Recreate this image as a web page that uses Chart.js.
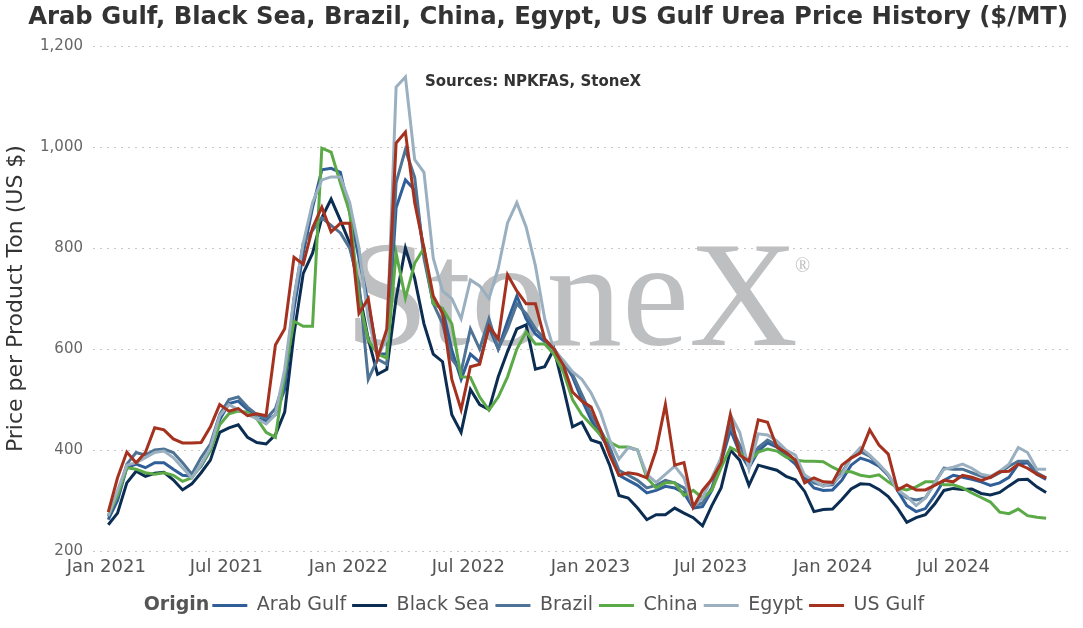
<!DOCTYPE html>
<html>
<head>
<meta charset="utf-8">
<script src="https://cdn.jsdelivr.net/npm/chart.js@4.4.1/dist/chart.umd.min.js"></script>
<style>
    html, body { margin: 0; padding: 0; background: #ffffff; }
    #wrap { width: 1083px; height: 628px; position: relative; }
</style>
</head>
<body>
<div id="wrap"><canvas id="ureaChart"></canvas></div>
<script>

// Series, one value every two weeks starting early Jan 2021 ($/MT)
const origins = ["Arab Gulf", "Black Sea", "Brazil", "China", "Egypt", "US Gulf"];

const arabGulf = [
    262, 300, 365, 372, 365, 375, 375, 362, 350, 348,
    368, 400, 460, 492, 497, 480, 462, 458, 470, 520,
    680, 790, 880, 955, 958, 950, 870, 780, 690, 590,
    590, 880, 935, 915, 790, 690, 680, 598, 540, 590,
    574, 644, 600, 655, 705, 660, 630, 615, 600, 575,
    545, 500, 460, 430, 400, 350, 340, 330, 315, 320,
    328, 325, 315, 285, 288, 320, 375, 440, 395, 365,
    398, 414, 406, 388, 372, 345, 325, 320, 321, 340,
    370, 384, 378, 368, 350, 320, 290, 278, 284, 310,
    340, 350, 346, 342, 337, 330, 335, 346, 372, 375,
    352, 342
];

const blackSea = [
    252, 275, 335, 358, 348, 354, 356, 341, 321, 333,
    355, 380, 435, 444, 450, 425, 415, 412, 430, 475,
    630, 750, 790, 860, 897, 855, 810, 715, 620, 550,
    560, 700, 800, 740, 650, 590, 575, 470, 435, 520,
    490, 480, 545, 595, 640, 648, 560, 565, 600, 525,
    446, 455, 420, 414, 370, 310, 305, 285, 262, 272,
    272, 285, 275, 266, 250, 290, 325, 400, 380, 330,
    370, 365, 360, 348, 341, 318, 278, 282, 283, 302,
    323, 333, 332, 322, 308, 285, 257, 266, 272, 293,
    320, 324, 322, 323, 314, 311, 316, 329, 341, 342,
    327, 316
];

const brazil = [
    268, 310, 372, 395, 390, 400, 402, 395, 375, 352,
    385, 412, 470, 500, 505, 485, 470, 462, 482, 540,
    700, 810, 835, 860, 845, 830, 800, 730, 540, 580,
    570, 930, 995, 940, 780, 690, 650, 580, 555, 640,
    600, 660, 600, 640, 690, 670, 640, 620, 600, 570,
    550, 510, 470, 440, 405, 360, 350, 340, 325, 330,
    340, 335, 325, 290, 295, 325, 385, 448, 410, 372,
    405, 420, 410, 395, 378, 350, 335, 330, 331, 355,
    385, 397, 388, 370, 350, 322, 305, 301, 305, 335,
    364, 362, 362, 355, 348, 345, 355, 368, 378, 378,
    355, 345
];

const china = [
    270, 310, 365, 362, 355, 352, 355, 350, 338, 345,
    370, 400, 450, 472, 477, 475, 462, 435, 425, 550,
    655, 645, 645, 998, 990, 929, 871, 700, 618, 590,
    582, 790, 701, 770, 800, 690, 680, 650, 545, 544,
    505, 479, 505, 545, 600, 634, 610, 610, 590, 555,
    500, 470, 450, 430, 416, 406, 406, 400, 345, 325,
    335, 335, 310, 320, 305, 320, 365, 405, 395, 376,
    396, 402, 398, 386, 380, 378, 378, 377, 366, 357,
    357, 350, 347, 351, 337, 325, 321, 327, 337, 337,
    331, 331, 325, 315, 306, 297, 277, 274, 283, 270,
    267, 265
];

const egypt = [
    270, 320, 370, 375, 385, 395, 398, 385, 365, 345,
    372, 405, 468, 490, 480, 470, 462, 452, 470, 560,
    700, 810, 890, 935, 941, 941, 890, 800, 660, 585,
    620, 1119, 1139, 975, 950, 780, 715, 700, 660, 737,
    725, 700, 760, 850, 890, 842, 765, 660, 598, 578,
    555, 540, 513, 475, 420, 382, 405, 400, 352, 336,
    352, 368, 345, 288, 305, 345, 385, 470, 435, 362,
    432, 430, 418, 400, 390, 350, 340, 328, 335, 351,
    385, 405, 390, 372, 352, 321, 308, 290, 305, 335,
    362, 366, 372, 364, 352, 348, 358, 372, 405, 395,
    362, 362
];

const usGulf = [
    277, 345, 396, 375, 395, 444, 440, 422, 414, 414,
    415, 446, 490, 477, 482, 468, 472, 468, 608, 640,
    782, 768, 840, 881, 832, 849, 849, 671, 700, 582,
    640, 1008, 1030, 890, 800, 705, 671, 540, 480, 565,
    570, 645, 620, 747, 715, 690, 690, 620, 600, 568,
    515, 497, 485, 440, 390, 350, 355, 352, 345, 400,
    490, 370, 375, 287, 320, 342, 375, 470, 390, 378,
    460, 455, 406, 395, 380, 335, 345, 337, 336, 370,
    384, 394, 440, 410, 392, 321, 331, 321, 321, 330,
    340, 337, 350, 346, 340, 346, 357, 358, 372, 364,
    352, 345
];

// x axis in days since 1 Jan 2021
const tickDays = [0, 181, 365, 546, 730, 911, 1095, 1277];
const tickLabels = ["Jan 2021", "Jul 2021", "Jan 2022", "Jul 2022", "Jan 2023", "Jul 2023", "Jan 2024", "Jul 2024"];
const firstDay = 3;
const stepDays = 14;

const seriesValues = [arabGulf, blackSea, brazil, china, egypt, usGulf];
const lineColors = ["#2F5E98", "#0C2D52", "#4E7394", "#5BAA47", "#9AB0C0", "#A5311F"];

const FONT = "'DejaVu Sans', Verdana, sans-serif";

// Watermark, sources note and bold "Origin" in front of the legend
const decorations = {
    id: "decorations",
    beforeDatasetsDraw(chart) {
        const { ctx, chartArea } = chart;
        ctx.save();
        ctx.fillStyle = "#BEBFC1";
        ctx.textBaseline = "alphabetic";
        ctx.textAlign = "left";
        ctx.font = "151px 'Liberation Serif', 'Times New Roman', serif";
        ctx.fillText("StoneX", chartArea.left + 252, chartArea.top + 299);
        ctx.font = "20px 'Liberation Serif', serif";
        ctx.fillText("®", chartArea.left + 702, chartArea.top + 226);
        ctx.restore();
    },
    afterDraw(chart) {
        const { ctx, chartArea } = chart;
        ctx.save();
        ctx.fillStyle = "#333333";
        ctx.textBaseline = "middle";
        ctx.textAlign = "left";
        ctx.font = "bold 15px " + FONT;
        ctx.fillText("Sources: NPKFAS, StoneX", chartArea.left + 332, chartArea.top + 36);

        const hb = chart.legend && chart.legend.legendHitBoxes[0];
        if (hb) {
            ctx.fillStyle = "#555555";
            ctx.font = "bold 19px " + FONT;
            ctx.fillText("Origin", hb.left, hb.top + hb.height / 2);
        }
        ctx.restore();
    }
};

let ureaChart = null;

function createUreaChart() {

    const canvas = document.getElementById("ureaChart");

    if (ureaChart) {
        ureaChart.destroy();
    }

    const datasets = origins.map((name, i) => ({
        label: name,
        data: seriesValues[i].map((v, k) => ({ x: firstDay + k * stepDays, y: v })),
        borderColor: lineColors[i],
        backgroundColor: lineColors[i],
        borderWidth: 3,
        pointRadius: 0,
        tension: 0,
        // later origins are drawn on top
        order: origins.length - i
    }));

    ureaChart = new Chart(canvas, {
        type: "line",
        data: { datasets: datasets },
        plugins: [decorations],
        options: {
            responsive: true,
            maintainAspectRatio: false,
            animation: false,
            layout: {
                padding: { left: 0, right: 15, top: 0, bottom: 3 }
            },
            plugins: {
                title: {
                    display: true,
                    align: "end",
                    text: "Arab Gulf, Black Sea, Brazil, China, Egypt, US Gulf Urea Price History ($/MT)",
                    color: "#333333",
                    font: { family: FONT, size: 24.3, weight: "bold" },
                    padding: { top: 3, bottom: 14 }
                },
                legend: {
                    position: "bottom",
                    onClick: () => {},
                    labels: {
                        boxWidth: 35,
                        boxHeight: 3,
                        padding: 6,
                        color: "#555555",
                        font: { family: FONT, size: 19 },
                        generateLabels: (chart) => {
                            const items = [{
                                text: "   ",
                                fillStyle: "rgba(0,0,0,0)",
                                strokeStyle: "rgba(0,0,0,0)",
                                fontColor: "rgba(0,0,0,0)",
                                lineWidth: 0,
                                hidden: false,
                                datasetIndex: -1
                            }];
                            chart.data.datasets.forEach((ds, i) => {
                                items.push({
                                    text: ds.label,
                                    fillStyle: ds.borderColor,
                                    strokeStyle: ds.borderColor,
                                    fontColor: "#555555",
                                    lineWidth: 0,
                                    hidden: false,
                                    datasetIndex: i
                                });
                            });
                            return items;
                        }
                    }
                },
                tooltip: { enabled: false }
            },
            scales: {
                x: {
                    type: "linear",
                    min: -20,
                    max: 1450,
                    afterFit: (scale) => {
                        scale.height = 39;
                    },
                    grid: { display: false, drawTicks: false },
                    border: { display: false },
                    afterBuildTicks: (scale) => {
                        scale.ticks = tickDays.map(d => ({ value: d }));
                    },
                    ticks: {
                        autoSkip: false,
                        maxRotation: 0,
                        padding: 6,
                        color: "#555555",
                        font: { family: FONT, size: 18 },
                        callback: (value, index) => tickLabels[index]
                    }
                },
                y: {
                    min: 200,
                    max: 1200,
                    afterFit: (scale) => {
                        scale.width = 93;
                    },
                    grid: {
                        color: "#C8C8C8",
                        lineWidth: 1,
                        drawTicks: false
                    },
                    border: { display: false, dash: [2, 5] },
                    ticks: {
                        stepSize: 200,
                        padding: 10,
                        color: "#666666",
                        font: { family: FONT, size: 15 },
                        callback: (value) => value.toLocaleString("en-US")
                    },
                    title: {
                        display: true,
                        text: "Price per Product Ton (US $)",
                        color: "#333333",
                        font: { family: FONT, size: 22 },
                        padding: { top: 3, bottom: 0 }
                    }
                }
            }
        }
    });

}

createUreaChart();
</script>
</body>
</html>
